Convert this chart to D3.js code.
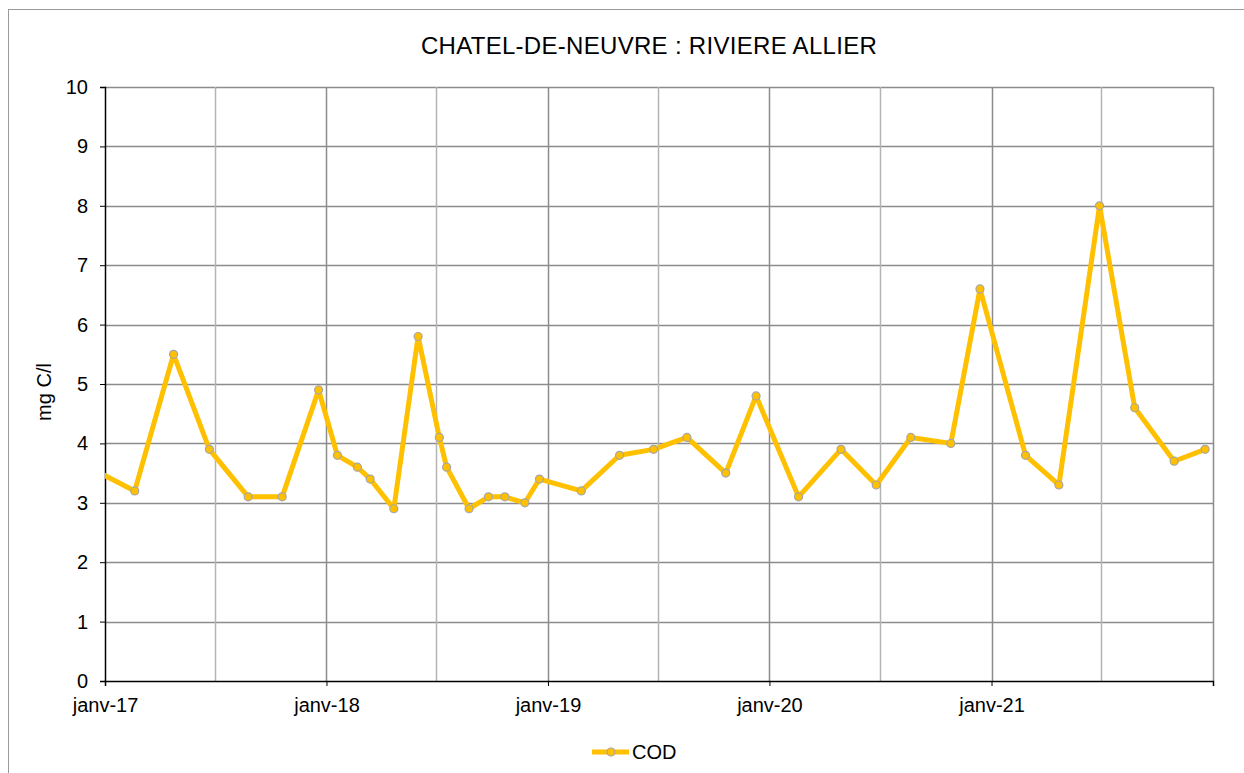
<!DOCTYPE html>
<html>
<head>
<meta charset="utf-8">
<script src="https://cdn.jsdelivr.net/npm/d3@7"></script>
<style>
  body { margin: 0; background: #fff; }
  svg { display: block; font-family: "Liberation Sans", Arial, sans-serif; }
</style>
</head>
<body>
<svg id="chart" width="1244" height="773"></svg>
<script>
// chart values
const title = "CHATEL-DE-NEUVRE : RIVIERE ALLIER";
const seriesName = "COD";
const yLabel = "mg C/l";

const dates = [
  "2016-12-05", "2017-02-19", "2017-04-24", "2017-06-22", "2017-08-25", "2017-10-20",
  "2017-12-19", "2018-01-19", "2018-02-21", "2018-03-14", "2018-04-22", "2018-06-01",
  "2018-07-06", "2018-07-18", "2018-08-24", "2018-09-25", "2018-10-22", "2018-11-24",
  "2018-12-18", "2019-02-25", "2019-04-29", "2019-06-24", "2019-08-18", "2019-10-21",
  "2019-12-10", "2020-02-18", "2020-04-28", "2020-06-25", "2020-08-21", "2020-10-26",
  "2020-12-13", "2021-02-26", "2021-04-22", "2021-06-28", "2021-08-25", "2021-10-29",
  "2021-12-19"
];
const codValues = [
  3.6, 3.2, 5.5, 3.9, 3.1, 3.1,
  4.9, 3.8, 3.6, 3.4, 2.9, 5.8,
  4.1, 3.6, 2.9, 3.1, 3.1, 3.0,
  3.4, 3.2, 3.8, 3.9, 4.1, 3.5,
  4.8, 3.1, 3.9, 3.3, 4.1, 4.0,
  6.6, 3.8, 3.3, 8.0, 4.6, 3.7,
  3.9
];
const xTickDates = ["2017-01-01", "2018-01-01", "2019-01-01", "2020-01-01", "2021-01-01"];
const xTickLabels = ["janv-17", "janv-18", "janv-19", "janv-20", "janv-21"];
const yTicks = [0, 1, 2, 3, 4, 5, 6, 7, 8, 9, 10];

const parse = d3.timeParse("%Y-%m-%d");
const data = dates.map((d, i) => ({ date: parse(d), value: codValues[i] }));

const plotLeft = 105, plotRight = 1213, plotTop = 87, plotBottom = 681;

const svg = d3.select("#chart");

const x = d3.scaleTime()
  .domain([parse("2017-01-01"), parse("2022-01-01")])
  .range([plotLeft, plotRight]);
const y = d3.scaleLinear().domain([0, 10]).range([plotBottom, plotTop]);

// outer frame (runs past the picture edges)
svg.append("rect")
  .attr("x", 8.5).attr("y", 9.5)
  .attr("width", 1300).attr("height", 800)
  .attr("fill", "none").attr("stroke", "#9a9a9a").attr("stroke-width", 1);

svg.append("text")
  .attr("x", 649).attr("y", 54)
  .attr("text-anchor", "middle")
  .attr("font-size", 24)
  .attr("letter-spacing", 0.3)
  .text(title);

// horizontal gridlines
svg.append("g")
  .selectAll("line")
  .data(yTicks.filter(v => v > 0))
  .join("line")
  .attr("x1", plotLeft).attr("x2", plotRight)
  .attr("y1", d => Math.round(y(d)) + 0.5).attr("y2", d => Math.round(y(d)) + 0.5)
  .attr("stroke", "#8c8c8c").attr("stroke-width", 1.5);

// vertical gridlines every 6 months
const halfYears = d3.timeMonth.every(6).range(parse("2017-06-30"), parse("2022-01-02"));
svg.append("g")
  .selectAll("line")
  .data(halfYears)
  .join("line")
  .attr("x1", d => Math.round(x(d)) + 0.5).attr("x2", d => Math.round(x(d)) + 0.5)
  .attr("y1", plotTop).attr("y2", plotBottom)
  .attr("stroke", d => d.getMonth() === 0 ? "#8c8c8c" : "#b4b4b4")
  .attr("stroke-width", 1.5);

// y axis
const yAxis = d3.axisLeft(y).tickValues(yTicks).tickSize(5).tickPadding(12);
const gy = svg.append("g").attr("transform", `translate(${plotLeft},0)`).call(yAxis);
gy.select(".domain").attr("stroke", "#000").attr("stroke-width", 1.5);
gy.selectAll(".tick line").attr("stroke", "#000");
gy.selectAll(".tick text").attr("font-size", 20).attr("fill", "#000")
  .attr("font-family", "Liberation Sans, Arial, sans-serif");

// x axis
const xAxis = d3.axisBottom(x)
  .tickValues(xTickDates.map(parse).concat([parse("2022-01-01")]))
  .tickFormat((d, i) => xTickLabels[i] || "")
  .tickSize(5).tickPadding(12);
const gx = svg.append("g").attr("transform", `translate(0,${plotBottom})`).call(xAxis);
gx.select(".domain").attr("stroke", "#000").attr("stroke-width", 1.5);
gx.selectAll(".tick line").attr("stroke", "#000");
gx.selectAll(".tick text").attr("font-size", 20).attr("fill", "#000")
  .attr("font-family", "Liberation Sans, Arial, sans-serif");

// axis title
svg.append("text")
  .attr("transform", "translate(51,392) rotate(-90)")
  .attr("text-anchor", "middle")
  .attr("font-size", 20)
  .text(yLabel);

// series
svg.append("clipPath").attr("id", "plotClip")
  .append("rect").attr("x", plotLeft).attr("y", plotTop - 10)
  .attr("width", plotRight - plotLeft + 10).attr("height", plotBottom - plotTop + 20);

const line = d3.line().x(d => x(d.date)).y(d => y(d.value));
const series = svg.append("g").attr("clip-path", "url(#plotClip)");
series.append("path")
  .datum(data)
  .attr("d", line)
  .attr("fill", "none")
  .attr("stroke", "#FFC000")
  .attr("stroke-width", 5)
  .attr("stroke-linejoin", "round");
series.selectAll("circle")
  .data(data)
  .join("circle")
  .attr("cx", d => x(d.date)).attr("cy", d => y(d.value))
  .attr("r", 4)
  .attr("fill", "#FFC000")
  .attr("stroke", "#a6a6a6").attr("stroke-width", 1.2);

// legend
const lg = svg.append("g");
lg.append("line").attr("x1", 592).attr("x2", 629).attr("y1", 752).attr("y2", 752)
  .attr("stroke", "#FFC000").attr("stroke-width", 5);
lg.append("circle").attr("cx", 611).attr("cy", 752).attr("r", 4)
  .attr("fill", "#FFC000").attr("stroke", "#a6a6a6").attr("stroke-width", 1.2);
lg.append("text").attr("x", 632).attr("y", 759).attr("font-size", 20).text(seriesName);
</script>
</body>
</html>
